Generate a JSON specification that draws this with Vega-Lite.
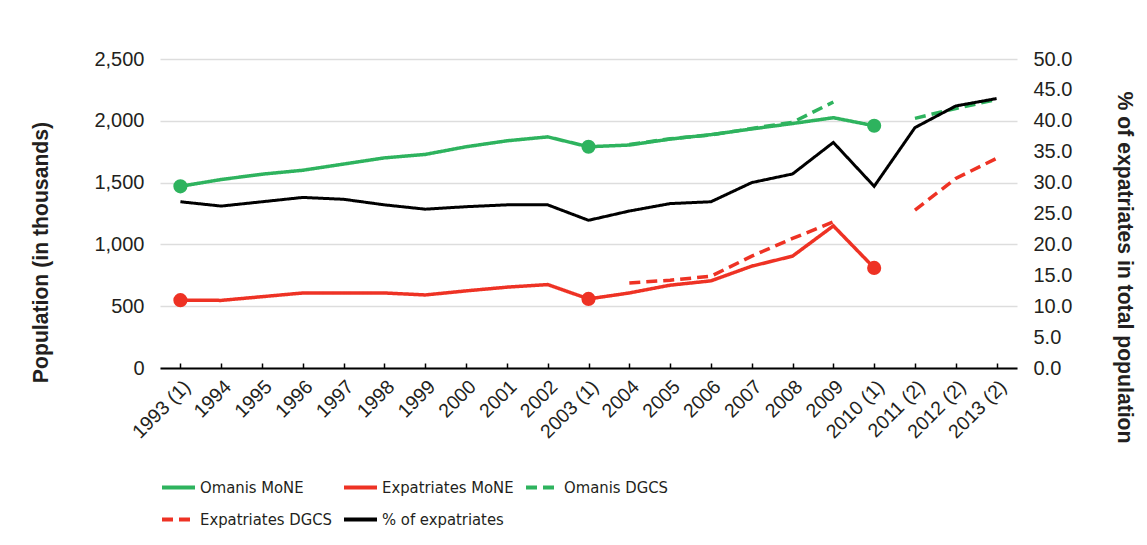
{
  "$schema": "https://vega.github.io/schema/vega-lite/v6.json",
  "autosize": {"type": "none"},
  "width": 857,
  "height": 309,
  "padding": {"left": 160, "top": 59, "right": 130, "bottom": 177},
  "background": "white",
  "config": {
    "font": "Liberation Sans",
    "view": {"stroke": null},
    "axis": {"labelFont": "Liberation Sans", "titleFont": "Liberation Sans", "labelColor": "#231F20", "titleColor": "#231F20"}
  },
  "datasets": {
    "pop": [
      {"year": "1993 (1)", "series": "Omanis MoNE", "value": 1470},
      {"year": "1994", "series": "Omanis MoNE", "value": 1525},
      {"year": "1995", "series": "Omanis MoNE", "value": 1568},
      {"year": "1996", "series": "Omanis MoNE", "value": 1600},
      {"year": "1997", "series": "Omanis MoNE", "value": 1650},
      {"year": "1998", "series": "Omanis MoNE", "value": 1700},
      {"year": "1999", "series": "Omanis MoNE", "value": 1728},
      {"year": "2000", "series": "Omanis MoNE", "value": 1790},
      {"year": "2001", "series": "Omanis MoNE", "value": 1838},
      {"year": "2002", "series": "Omanis MoNE", "value": 1870},
      {"year": "2003 (1)", "series": "Omanis MoNE", "value": 1790},
      {"year": "2004", "series": "Omanis MoNE", "value": 1804},
      {"year": "2005", "series": "Omanis MoNE", "value": 1852},
      {"year": "2006", "series": "Omanis MoNE", "value": 1888},
      {"year": "2007", "series": "Omanis MoNE", "value": 1934},
      {"year": "2008", "series": "Omanis MoNE", "value": 1978},
      {"year": "2009", "series": "Omanis MoNE", "value": 2025},
      {"year": "2010 (1)", "series": "Omanis MoNE", "value": 1960},

      {"year": "1993 (1)", "series": "Expatriates MoNE", "value": 549},
      {"year": "1994", "series": "Expatriates MoNE", "value": 547},
      {"year": "1995", "series": "Expatriates MoNE", "value": 577},
      {"year": "1996", "series": "Expatriates MoNE", "value": 607},
      {"year": "1997", "series": "Expatriates MoNE", "value": 607},
      {"year": "1998", "series": "Expatriates MoNE", "value": 607},
      {"year": "1999", "series": "Expatriates MoNE", "value": 591},
      {"year": "2000", "series": "Expatriates MoNE", "value": 624},
      {"year": "2001", "series": "Expatriates MoNE", "value": 654},
      {"year": "2002", "series": "Expatriates MoNE", "value": 675},
      {"year": "2003 (1)", "series": "Expatriates MoNE", "value": 559},
      {"year": "2004", "series": "Expatriates MoNE", "value": 607},
      {"year": "2005", "series": "Expatriates MoNE", "value": 670},
      {"year": "2006", "series": "Expatriates MoNE", "value": 705},
      {"year": "2007", "series": "Expatriates MoNE", "value": 824},
      {"year": "2008", "series": "Expatriates MoNE", "value": 905},
      {"year": "2009", "series": "Expatriates MoNE", "value": 1150},
      {"year": "2010 (1)", "series": "Expatriates MoNE", "value": 810},

      {"year": "2004", "series": "Omanis DGCS", "value": 1808},
      {"year": "2005", "series": "Omanis DGCS", "value": 1855},
      {"year": "2006", "series": "Omanis DGCS", "value": 1885},
      {"year": "2007", "series": "Omanis DGCS", "value": 1938},
      {"year": "2008", "series": "Omanis DGCS", "value": 1988},
      {"year": "2009", "series": "Omanis DGCS", "value": 2152},
      {"year": "2010 (1)", "series": "Omanis DGCS", "value": null},
      {"year": "2011 (2)", "series": "Omanis DGCS", "value": 2020},
      {"year": "2012 (2)", "series": "Omanis DGCS", "value": 2100},
      {"year": "2013 (2)", "series": "Omanis DGCS", "value": 2172},

      {"year": "2004", "series": "Expatriates DGCS", "value": 688},
      {"year": "2005", "series": "Expatriates DGCS", "value": 710},
      {"year": "2006", "series": "Expatriates DGCS", "value": 743},
      {"year": "2007", "series": "Expatriates DGCS", "value": 905},
      {"year": "2008", "series": "Expatriates DGCS", "value": 1048},
      {"year": "2009", "series": "Expatriates DGCS", "value": 1182},
      {"year": "2010 (1)", "series": "Expatriates DGCS", "value": null},
      {"year": "2011 (2)", "series": "Expatriates DGCS", "value": 1277},
      {"year": "2012 (2)", "series": "Expatriates DGCS", "value": 1534},
      {"year": "2013 (2)", "series": "Expatriates DGCS", "value": 1696}
    ],
    "pct": [
      {"year": "1993 (1)", "series": "% of expatriates", "value": 26.9},
      {"year": "1994", "series": "% of expatriates", "value": 26.2},
      {"year": "1995", "series": "% of expatriates", "value": 26.9},
      {"year": "1996", "series": "% of expatriates", "value": 27.6},
      {"year": "1997", "series": "% of expatriates", "value": 27.3},
      {"year": "1998", "series": "% of expatriates", "value": 26.4},
      {"year": "1999", "series": "% of expatriates", "value": 25.7},
      {"year": "2000", "series": "% of expatriates", "value": 26.1},
      {"year": "2001", "series": "% of expatriates", "value": 26.4},
      {"year": "2002", "series": "% of expatriates", "value": 26.4},
      {"year": "2003 (1)", "series": "% of expatriates", "value": 23.9},
      {"year": "2004", "series": "% of expatriates", "value": 25.4},
      {"year": "2005", "series": "% of expatriates", "value": 26.6},
      {"year": "2006", "series": "% of expatriates", "value": 26.9},
      {"year": "2007", "series": "% of expatriates", "value": 30.0},
      {"year": "2008", "series": "% of expatriates", "value": 31.4},
      {"year": "2009", "series": "% of expatriates", "value": 36.5},
      {"year": "2010 (1)", "series": "% of expatriates", "value": 29.4},
      {"year": "2011 (2)", "series": "% of expatriates", "value": 38.9},
      {"year": "2012 (2)", "series": "% of expatriates", "value": 42.4},
      {"year": "2013 (2)", "series": "% of expatriates", "value": 43.6}
    ]
  },
  "encoding": {
    "x": {
      "field": "year",
      "type": "ordinal",
      "sort": null,
      "scale": {
        "type": "point",
        "padding": 0.5,
        "domain": ["1993 (1)", "1994", "1995", "1996", "1997", "1998", "1999", "2000", "2001", "2002", "2003 (1)", "2004", "2005", "2006", "2007", "2008", "2009", "2010 (1)", "2011 (2)", "2012 (2)", "2013 (2)"]
      },
      "axis": {
        "title": null,
        "labelAngle": -45,
        "labelFontSize": 19.5,
        "labelPadding": 14,
        "domainColor": "#000000",
        "domainWidth": 2,
        "tickColor": "#000000",
        "tickWidth": 1.5,
        "tickSize": -5,
        "grid": false
      }
    },
    "color": {
      "field": "series",
      "type": "nominal",
      "scale": {
        "domain": ["Omanis MoNE", "Expatriates MoNE", "Omanis DGCS", "Expatriates DGCS", "% of expatriates"],
        "range": ["#2EB35E", "#EE3224", "#2EB35E", "#EE3224", "#000000"]
      },
      "legend": {
        "title": null,
        "orient": "bottom",
        "direction": "horizontal",
        "columns": 3,
        "symbolType": "stroke",
        "symbolSize": 1089,
        "symbolStrokeWidth": 4,
        "labelFont": "DejaVu Sans Condensed, Liberation Sans",
        "labelFontSize": 16.5,
        "labelColor": "#231F20",
        "labelOffset": 3,
        "columnPadding": 4,
        "rowPadding": 5,
        "offset": 27,
        "gridAlign": "all"
      }
    },
    "strokeDash": {
      "field": "series",
      "type": "nominal",
      "scale": {
        "domain": ["Omanis MoNE", "Expatriates MoNE", "Omanis DGCS", "Expatriates DGCS", "% of expatriates"],
        "range": [[1, 0], [1, 0], [11, 6], [11, 6], [1, 0]]
      },
      "legend": {
        "title": null,
        "orient": "bottom",
        "direction": "horizontal",
        "columns": 3,
        "symbolType": "stroke",
        "symbolSize": 1089,
        "symbolStrokeWidth": 4,
        "labelFont": "DejaVu Sans Condensed, Liberation Sans",
        "labelFontSize": 16.5,
        "labelColor": "#231F20",
        "labelOffset": 3,
        "columnPadding": 4,
        "rowPadding": 5,
        "offset": 27,
        "gridAlign": "all"
      }
    }
  },
  "layer": [
    {
      "data": {"name": "pop"},
      "mark": {"type": "line", "strokeWidth": 3.5, "invalid": "break-paths-show-domains"},
      "encoding": {
        "y": {
          "field": "value",
          "type": "quantitative",
          "scale": {"domain": [0, 2500]},
          "axis": {
            "title": "Population (in thousands)",
            "titleFontSize": 21.2,
            "titleFontWeight": "bold",
            "titlePadding": 42,
            "titleY": 193,
            "values": [0, 500, 1000, 1500, 2000, 2500],
            "format": ",.0f",
            "labelFontSize": 20,
            "labelPadding": 16,
            "domain": false,
            "ticks": false,
            "grid": true,
            "gridColor": "#DDDDDD",
            "gridWidth": 1.5
          }
        }
      }
    },
    {
      "data": {"name": "pop"},
      "transform": [
        {"filter": {"field": "series", "oneOf": ["Omanis MoNE", "Expatriates MoNE"]}},
        {"filter": {"field": "year", "oneOf": ["1993 (1)", "2003 (1)", "2010 (1)"]}}
      ],
      "mark": {"type": "point", "filled": true, "opacity": 1, "size": 200},
      "encoding": {
        "y": {"field": "value", "type": "quantitative", "scale": {"domain": [0, 2500]}, "axis": null},
        "strokeDash": null
      }
    },
    {
      "data": {"name": "pct"},
      "mark": {"type": "line", "strokeWidth": 3},
      "encoding": {
        "y": {
          "field": "value",
          "type": "quantitative",
          "scale": {"domain": [0, 50]},
          "axis": {
            "orient": "right",
            "title": "% of expatriates in total population",
            "titleFontSize": 21.2,
            "titleFontWeight": "bold",
            "titlePadding": 42,
            "titleY": 208,
            "values": [0, 5, 10, 15, 20, 25, 30, 35, 40, 45, 50],
            "format": ".1f",
            "labelFontSize": 20,
            "labelPadding": 16,
            "domain": false,
            "ticks": false,
            "grid": false
          }
        }
      }
    }
  ],
  "resolve": {"scale": {"y": "independent"}, "axis": {"y": "independent"}}
}
